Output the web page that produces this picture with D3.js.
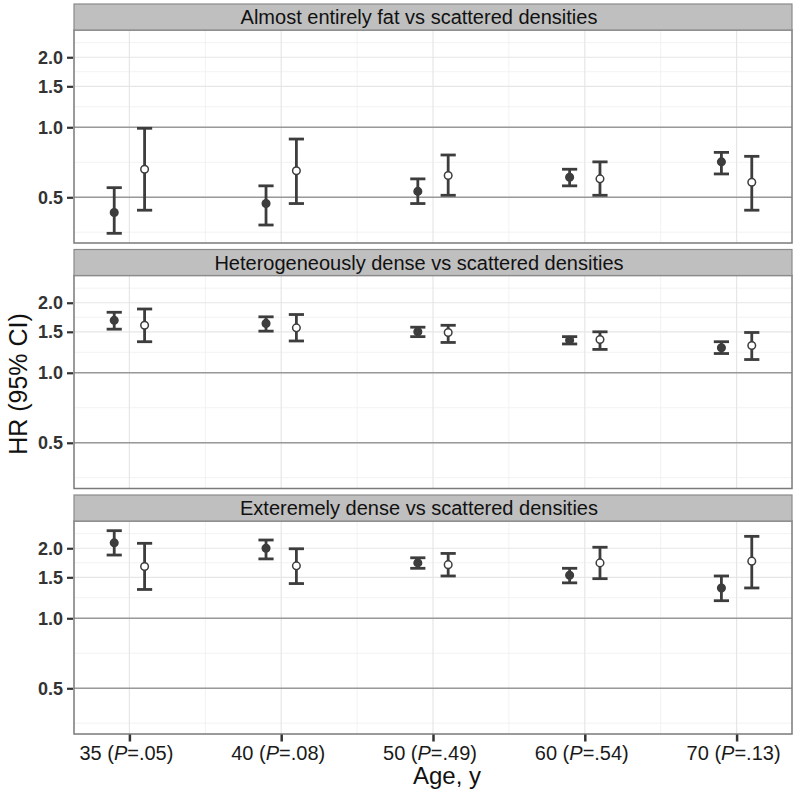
<!DOCTYPE html>
<html>
<head>
<meta charset="utf-8">
<script src="https://cdn.jsdelivr.net/npm/d3@7"></script>
<style>
  body { margin: 0; background: #fff; }
  svg { font-family: "Liberation Sans", Arial, Helvetica, sans-serif; }
</style>
</head>
<body>
<script>
    // categories
    var ages = ["35", "40", "50", "60", "70"];
    var pvals = [".05", ".08", ".49", ".54", ".13"];
    var panelTitles = [
        "Almost entirely fat vs scattered densities",
        "Heterogeneously dense vs scattered densities",
        "Exteremely dense vs scattered densities"
    ];
    var yTicks = [0.5, 1.0, 1.5, 2.0];
    var refLines = [0.5, 1.0];

    // filled points
    var fatSolid   = [0.43, 0.47, 0.53, 0.61, 0.71];
    var fatSolidLo = [0.35, 0.38, 0.47, 0.56, 0.63];
    var fatSolidHi = [0.55, 0.56, 0.60, 0.66, 0.78];
    var hetSolid   = [1.68, 1.63, 1.50, 1.38, 1.28];
    var hetSolidLo = [1.54, 1.51, 1.43, 1.33, 1.21];
    var hetSolidHi = [1.82, 1.74, 1.57, 1.43, 1.36];
    var extSolid   = [2.11, 2.00, 1.73, 1.53, 1.35];
    var extSolidLo = [1.87, 1.80, 1.64, 1.42, 1.19];
    var extSolidHi = [2.38, 2.17, 1.82, 1.64, 1.52];

    // open points
    var fatOpen   = [0.66, 0.65, 0.62, 0.60, 0.58];
    var fatOpenLo = [0.44, 0.47, 0.51, 0.51, 0.44];
    var fatOpenHi = [0.99, 0.89, 0.76, 0.71, 0.75];
    var hetOpen   = [1.60, 1.56, 1.49, 1.39, 1.31];
    var hetOpenLo = [1.36, 1.37, 1.35, 1.26, 1.14];
    var hetOpenHi = [1.88, 1.78, 1.60, 1.50, 1.49];
    var extOpen   = [1.67, 1.68, 1.70, 1.73, 1.76];
    var extOpenLo = [1.33, 1.41, 1.52, 1.48, 1.35];
    var extOpenHi = [2.10, 1.99, 1.90, 2.02, 2.25];

    var solidSets = [[fatSolid, fatSolidLo, fatSolidHi], [hetSolid, hetSolidLo, hetSolidHi], [extSolid, extSolidLo, extSolidHi]];
    var openSets = [[fatOpen, fatOpenLo, fatOpenHi], [hetOpen, hetOpenLo, hetOpenHi], [extOpen, extOpenLo, extOpenHi]];

    // layout
    var W = 800, H = 803;
    var left = 74, right = 792;
    var stripTop0 = 4, stripH = 26, panelH = 213, panelStep = 245.5;
    var dodge = 0.1, capHalf = 0.05;

    var svg = d3.select("body").append("svg")
        .attr("width", W)
        .attr("height", H);

    // x as index 1..5, expanded like ggplot (dodged range + 5%)
    var lo = 1 - dodge - capHalf, hi = ages.length + dodge + capHalf;
    var xPad = (hi - lo) * 0.05;
    var x = d3.scaleLinear().domain([lo - xPad, hi + xPad]).range([left, right]);

    // shared log y domain from all CIs, expanded 5% in log space
    var allVals = [];
    solidSets.concat(openSets).forEach(function (s) { allVals = allVals.concat(s[1], s[2]); });
    var lmin = Math.log(d3.min(allVals)), lmax = Math.log(d3.max(allVals));
    var lpad = (lmax - lmin) * 0.05;
    var yDomain = [Math.exp(lmin - lpad), Math.exp(lmax + lpad)];

    var minorY = [0.354, 0.707, 1.225, 1.732, 2.31];
    var minorX = [1.5, 2.5, 3.5, 4.5];

    panelTitles.forEach(function (title, p) {
        var stripTop = stripTop0 + p * panelStep;
        var top = stripTop + stripH;
        var bottom = top + panelH;

        var y = d3.scaleLog().domain(yDomain).range([bottom, top]);

        var g = svg.append("g");

        // panel background
        g.append("rect")
            .attr("x", left).attr("y", top)
            .attr("width", right - left).attr("height", panelH)
            .attr("fill", "#fff");

        // minor grid
        g.selectAll(null).data(minorY).enter().append("line")
            .attr("x1", left).attr("x2", right)
            .attr("y1", function (d) { return y(d); })
            .attr("y2", function (d) { return y(d); })
            .attr("stroke", "#f2f2f2").attr("stroke-width", 1);
        g.selectAll(null).data(minorX).enter().append("line")
            .attr("y1", top).attr("y2", bottom)
            .attr("x1", function (d) { return x(d); })
            .attr("x2", function (d) { return x(d); })
            .attr("stroke", "#f2f2f2").attr("stroke-width", 1);

        // major grid
        g.selectAll(null).data(yTicks).enter().append("line")
            .attr("x1", left).attr("x2", right)
            .attr("y1", function (d) { return y(d); })
            .attr("y2", function (d) { return y(d); })
            .attr("stroke", "#e6e6e6").attr("stroke-width", 1.2);
        g.selectAll(null).data(ages).enter().append("line")
            .attr("y1", top).attr("y2", bottom)
            .attr("x1", function (d, i) { return x(i + 1); })
            .attr("x2", function (d, i) { return x(i + 1); })
            .attr("stroke", "#e6e6e6").attr("stroke-width", 1.2);

        // reference lines
        g.selectAll(null).data(refLines).enter().append("line")
            .attr("x1", left).attr("x2", right)
            .attr("y1", function (d) { return y(d); })
            .attr("y2", function (d) { return y(d); })
            .attr("stroke", "#999").attr("stroke-width", 1.6);

        // error bars + points
        var series = [
            { set: solidSets[p], off: -dodge, fill: "#3d3d3d" },
            { set: openSets[p], off: dodge, fill: "#fff" }
        ];
        series.forEach(function (s) {
            var rows = s.set[0].map(function (v, i) {
                return { i: i, v: v, lo: s.set[1][i], hi: s.set[2][i] };
            });
            var eb = g.append("g")
                .attr("stroke", "#3d3d3d")
                .attr("stroke-width", 2.8)
                .attr("fill", "none");
            eb.selectAll(null).data(rows).enter().append("line")
                .attr("x1", function (d) { return x(d.i + 1 + s.off); })
                .attr("x2", function (d) { return x(d.i + 1 + s.off); })
                .attr("y1", function (d) { return y(d.lo); })
                .attr("y2", function (d) { return y(d.hi); });
            eb.selectAll(null).data(rows).enter().append("line")
                .attr("x1", function (d) { return x(d.i + 1 + s.off - capHalf); })
                .attr("x2", function (d) { return x(d.i + 1 + s.off + capHalf); })
                .attr("y1", function (d) { return y(d.lo); })
                .attr("y2", function (d) { return y(d.lo); });
            eb.selectAll(null).data(rows).enter().append("line")
                .attr("x1", function (d) { return x(d.i + 1 + s.off - capHalf); })
                .attr("x2", function (d) { return x(d.i + 1 + s.off + capHalf); })
                .attr("y1", function (d) { return y(d.hi); })
                .attr("y2", function (d) { return y(d.hi); });
            g.selectAll(null).data(rows).enter().append("circle")
                .attr("cx", function (d) { return x(d.i + 1 + s.off); })
                .attr("cy", function (d) { return y(d.v); })
                .attr("r", 3.8)
                .attr("fill", s.fill)
                .attr("stroke", "#3d3d3d")
                .attr("stroke-width", 1.5);
        });

        // panel border
        g.append("rect")
            .attr("x", left).attr("y", top)
            .attr("width", right - left).attr("height", panelH)
            .attr("fill", "none")
            .attr("stroke", "#7a7a7a").attr("stroke-width", 1.5);

        // strip
        g.append("rect")
            .attr("x", left).attr("y", stripTop)
            .attr("width", right - left).attr("height", stripH)
            .attr("fill", "#bfbfbf")
            .attr("stroke", "#8a8a8a").attr("stroke-width", 1.2);
        g.append("text")
            .attr("x", 419)
            .attr("y", stripTop + 20)
            .attr("text-anchor", "middle")
            .attr("font-size", "20px")
            .attr("fill", "#111")
            .text(title);

        // y axis
        var yAxis = d3.axisLeft(y)
            .tickValues(yTicks)
            .tickFormat(d3.format(".1f"))
            .tickSize(6)
            .tickPadding(4);
        var ga = svg.append("g")
            .attr("transform", "translate(" + (left - 1) + ",0)")
            .call(yAxis);
        ga.select(".domain").remove();
        ga.selectAll(".tick line").attr("stroke", "#333").attr("stroke-width", 2.2);
        ga.selectAll(".tick text")
            .attr("font-size", "18px")
            .attr("font-weight", "bold")
            .attr("font-family", "'Liberation Sans', Arial, sans-serif")
            .attr("fill", "#333");

        // x axis on last panel
        if (p === panelTitles.length - 1) {
            var xAxis = d3.axisBottom(x)
                .tickValues(d3.range(1, ages.length + 1))
                .tickFormat("")
                .tickSize(7);
            var gx = svg.append("g")
                .attr("transform", "translate(0," + (bottom + 0.5) + ")")
                .call(xAxis);
            gx.select(".domain").remove();
            gx.selectAll(".tick line").attr("stroke", "#333").attr("stroke-width", 2.5);

            var lbl = svg.append("g").selectAll("text").data(ages).enter().append("text")
                .attr("x", function (d, i) { return x(i + 1) - 3; })
                .attr("y", bottom + 26)
                .attr("text-anchor", "middle")
                .attr("font-size", "20px")
                .attr("fill", "#1a1a1a");
            lbl.append("tspan").text(function (d) { return d + " ("; });
            lbl.append("tspan").attr("font-style", "italic").text("P");
            lbl.append("tspan").text(function (d, i) { return "=" + pvals[i] + ")"; });
        }
    });

    // axis titles
    svg.append("text")
        .attr("x", 447)
        .attr("y", 784)
        .attr("text-anchor", "middle")
        .attr("font-size", "24px")
        .attr("fill", "#111")
        .text("Age, y");

    svg.append("text")
        .attr("transform", "translate(27,384) rotate(-90)")
        .attr("text-anchor", "middle")
        .attr("font-size", "25px")
        .attr("fill", "#111")
        .text("HR (95% CI)");
</script>
</body>
</html>
